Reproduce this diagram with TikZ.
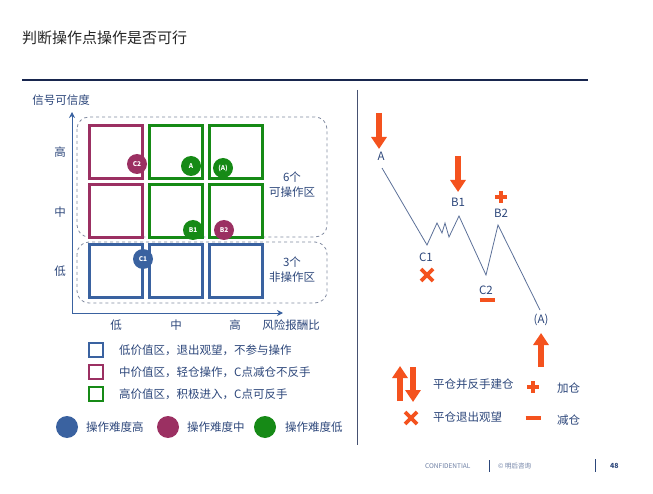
\documentclass[tikz,border=0pt]{standalone}
\usepackage{fontspec}
\setmainfont{Noto Sans CJK SC}
\usetikzlibrary{arrows.meta,calc}
\definecolor{navytxt}{RGB}{44,70,122}
\definecolor{rulenavy}{RGB}{24,38,78}
\definecolor{lowblue}{RGB}{58,98,160}
\definecolor{midred}{RGB}{155,48,98}
\definecolor{highgreen}{RGB}{22,138,22}
\definecolor{zonegray}{RGB}{128,138,160}
\definecolor{sigorange}{RGB}{244,82,30}
\definecolor{waveblue}{RGB}{92,112,152}

\begin{document}
\begin{tikzpicture}[x=1pt, y=-1pt,
    lbl/.style={text=navytxt, inner sep=0pt, font=\fontsize{11.5}{15}\selectfont},
    cell/.style={draw=#1, line width=2.6pt, minimum size=53pt, inner sep=0pt},
    keybox/.style={draw=#1, line width=2.2pt, minimum size=14pt, inner sep=0pt},
    dot/.style={circle, fill=#1, text=white, minimum size=20pt, inner sep=0pt,
        font=\fontsize{6.5}{7}\selectfont\bfseries},
    keydot/.style={circle, fill=#1, minimum size=22pt, inner sep=0pt},
    zone/.style={draw=zonegray, dashed, line width=0.8pt, rounded corners=12pt},
    axis/.style={draw=lowblue, line width=1pt, -{Stealth[length=6pt,width=6pt]}},
    trade/.style={draw=sigorange, line width=5.5pt, -{Triangle[width=15pt,length=12pt]}},
    sign/.style={draw=sigorange, line width=3.8pt},
]
    \useasboundingbox (0,0) rectangle (653,494);

    \node[anchor=west, inner sep=0pt, text=black!85,
        font=\fontsize{15}{18}\selectfont] (title) at (22,38) {判断操作点操作是否可行};
    \coordinate (ruleL) at (22,80);
    \coordinate (ruleR) at (588,80);
    \draw[rulenavy, line width=2.2pt] (ruleL) -- (ruleR);
    \coordinate (splitT) at (357,90);
    \coordinate (splitB) at (357,445);
    \draw[rulenavy!80, line width=0.8pt] (splitT) -- (splitB);

    % grid of value zones
    \draw[zone] (77,117) rectangle (327,237);
    \draw[zone] (77,242) rectangle (327,303);
    \foreach \name/\x/\y/\col in {c11/116/152/midred, c21/176/152/highgreen,
            c31/236/152/highgreen, c12/116/211/midred, c22/176/211/highgreen,
            c32/236/211/highgreen, c13/116/271/lowblue, c23/176/271/lowblue,
            c33/236/271/lowblue}
        \node[cell=\col] (\name) at (\x,\y) {};

    \coordinate (origin) at (72,313);
    \coordinate (ytop) at (72,112);
    \coordinate (xend) at (283,313);
    \draw[axis] (origin) -- (ytop);
    \draw[axis] (origin) -- (xend);
    \node[lbl] (ytitle) at (61,100) {信号可信度};
    \node[lbl] (yhigh) at (60,152) {高};
    \node[lbl] (ymid) at (60,212) {中};
    \node[lbl] (ylow) at (60,271) {低};
    \node[lbl] (xlow) at (116,325) {低};
    \node[lbl] (xmid) at (176,325) {中};
    \node[lbl] (xhigh) at (235,325) {高};
    \node[lbl] (xtitle) at (291,325) {风险报酬比};
    \node[lbl, align=center] (zoneok) at (292,185) {6个\\可操作区};
    \node[lbl, align=center] (zoneno) at (292,270) {3个\\非操作区};

    \node[dot=midred] (dC2) at (137,164) {C2};
    \node[dot=highgreen] (dA) at (191,166) {A};
    \node[dot=highgreen] (dAA) at (223,168) {(A)};
    \node[dot=highgreen] (dB1) at (193,230) {B1};
    \node[dot=midred] (dB2) at (224,230) {B2};
    \node[dot=lowblue] (dC1) at (143,259) {C1};

    % legend, left
    \node[keybox=lowblue] (klow) at (96,350) {};
    \node[keybox=midred] (kmid) at (96,372) {};
    \node[keybox=highgreen] (khigh) at (96,394) {};
    \node[lbl, anchor=west] (tlow) at (119,350) {低价值区，退出观望，不参与操作};
    \node[lbl, anchor=west] (tmid) at (119,372) {中价值区，轻仓操作，C点减仓不反手};
    \node[lbl, anchor=west] (thigh) at (119,394) {高价值区，积极进入，C点可反手};
    \node[keydot=lowblue] (khard) at (67,427) {};
    \node[keydot=midred] (kmed) at (168,427) {};
    \node[keydot=highgreen] (keasy) at (265,427) {};
    \node[lbl, anchor=west] (thard) at (86,427) {操作难度高};
    \node[lbl, anchor=west] (tmed) at (187,427) {操作难度中};
    \node[lbl, anchor=west] (teasy) at (285,427) {操作难度低};

    % wave
    \coordinate (wA) at (382,168);
    \coordinate (wC1) at (427,245);
    \coordinate (w1) at (437,223);
    \coordinate (w2) at (442,233);
    \coordinate (w3) at (445,223);
    \coordinate (w4) at (449,237);
    \coordinate (wB1) at (459,216);
    \coordinate (wC2) at (486,275);
    \coordinate (wB2) at (498,225);
    \coordinate (wAA) at (540,310);
    \draw[waveblue, line width=0.8pt] (wA) -- (wC1) -- (w1) -- (w2) -- (w3)
        -- (w4) -- (wB1) -- (wC2) -- (wB2) -- (wAA);

    \node[lbl] (pA) at (381,156) {A};
    \node[lbl] (pB1) at (458,202) {B1};
    \node[lbl] (pB2) at (501,213) {B2};
    \node[lbl] (pC1) at (426,257) {C1};
    \node[lbl] (pC2) at (486,290) {C2};
    \node[lbl] (pAA) at (541,320) {(A)};

    \coordinate (sA1) at (379,113);
    \coordinate (sA2) at (379,149);
    \draw[trade] (sA1) -- (sA2);
    \coordinate (sB1) at (458,156);
    \coordinate (sB2) at (458,192);
    \draw[trade] (sB1) -- (sB2);
    \coordinate (sAA1) at (541,367);
    \coordinate (sAA2) at (541,333);
    \draw[trade] (sAA1) -- (sAA2);
    \coordinate (xC1) at (427,275);
    \draw[sign] ($(xC1)+(-6,-6)$) -- ($(xC1)+(6,6)$)
        ($(xC1)+(-6,6)$) -- ($(xC1)+(6,-6)$);
    \coordinate (pB2s) at (501,197);
    \draw[sign] ($(pB2s)+(-6,0)$) -- ($(pB2s)+(6,0)$)
        ($(pB2s)+(0,-6)$) -- ($(pB2s)+(0,6)$);
    \coordinate (mC2) at (487,300);
    \draw[sign] ($(mC2)+(-7.5,0)$) -- ($(mC2)+(7.5,0)$);

    % legend, right
    \coordinate (kup1) at (400,401);
    \coordinate (kup2) at (400,366);
    \draw[trade] (kup1) -- (kup2);
    \coordinate (kdn1) at (413,367);
    \coordinate (kdn2) at (413,402);
    \draw[trade] (kdn1) -- (kdn2);
    \coordinate (kx) at (411,418);
    \draw[sign] ($(kx)+(-6,-6)$) -- ($(kx)+(6,6)$)
        ($(kx)+(-6,6)$) -- ($(kx)+(6,-6)$);
    \coordinate (kplus) at (533,387);
    \draw[sign] ($(kplus)+(-6,0)$) -- ($(kplus)+(6,0)$)
        ($(kplus)+(0,-6)$) -- ($(kplus)+(0,6)$);
    \coordinate (kminus) at (533,418);
    \draw[sign] ($(kminus)+(-7.5,0)$) -- ($(kminus)+(7.5,0)$);
    \node[lbl, anchor=west] (trev) at (433,384) {平仓并反手建仓};
    \node[lbl, anchor=west] (texit) at (433,417) {平仓退出观望};
    \node[lbl, anchor=west] (tadd) at (557,388) {加仓};
    \node[lbl, anchor=west] (tcut) at (557,420) {减仓};

    % footer
    \node[anchor=west, inner sep=0pt, text=navytxt!70, font=\fontsize{6.5}{8}\selectfont]
        (conf) at (425,466) {CONFIDENTIAL};
    \coordinate (bar1T) at (489,460);
    \coordinate (bar1B) at (489,472);
    \draw[navytxt, line width=0.8pt] (bar1T) -- (bar1B);
    \node[anchor=west, inner sep=0pt, text=navytxt!70, font=\fontsize{6.5}{8}\selectfont]
        (copy) at (498,466) {© 明后咨询};
    \coordinate (bar2T) at (595,459);
    \coordinate (bar2B) at (595,472);
    \draw[navytxt, line width=0.8pt] (bar2T) -- (bar2B);
    \node[anchor=west, inner sep=0pt, text=navytxt, font=\fontsize{7}{8}\selectfont\bfseries]
        (page) at (610,466) {48};
\end{tikzpicture}
\end{document}
